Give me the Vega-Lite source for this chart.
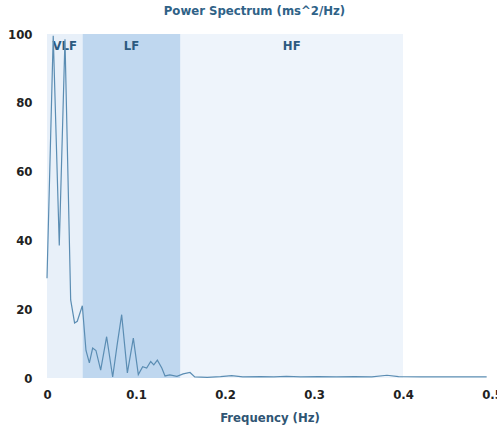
{
  "$schema": "https://vega.github.io/schema/vega-lite/v6.json",
  "width": 445,
  "height": 344,
  "autosize": {"type": "none"},
  "padding": {"left": 47, "top": 34, "right": 5, "bottom": 55},
  "background": "#ffffff",
  "config": {"view": {"stroke": null}, "font": "DejaVu Sans Condensed"},
  "title": {"text": "Power Spectrum (ms^2/Hz)", "fontSize": 13, "fontWeight": "bold", "color": "#2f6287", "offset": 10, "anchor": "middle", "dx": -15, "font": "DejaVu Sans Condensed"},
  "datasets": {
    "bands": [
      {"band": "VLF", "x0": 0, "x1": 0.04, "y0": 0, "y1": 100, "xm": 0.02, "ty": 96.5},
      {"band": "LF", "x0": 0.04, "x1": 0.15, "y0": 0, "y1": 100, "xm": 0.095, "ty": 96.5},
      {"band": "HF", "x0": 0.15, "x1": 0.4, "y0": 0, "y1": 100, "xm": 0.275, "ty": 96.5}
    ],
    "spectrum": [
      {"f": 0.0, "p": 29},
      {"f": 0.007, "p": 99.5},
      {"f": 0.0138, "p": 38.5},
      {"f": 0.0202, "p": 98.5},
      {"f": 0.0266, "p": 22.7},
      {"f": 0.031, "p": 16},
      {"f": 0.034, "p": 16.5},
      {"f": 0.0397, "p": 21},
      {"f": 0.0438, "p": 8},
      {"f": 0.0476, "p": 4.4},
      {"f": 0.0513, "p": 8.7},
      {"f": 0.055, "p": 8},
      {"f": 0.0603, "p": 2.3},
      {"f": 0.067, "p": 12},
      {"f": 0.0738, "p": 0.3},
      {"f": 0.079, "p": 10},
      {"f": 0.0839, "p": 18.4},
      {"f": 0.0903, "p": 1.5},
      {"f": 0.097, "p": 11.6},
      {"f": 0.1026, "p": 1},
      {"f": 0.1075, "p": 3.3},
      {"f": 0.112, "p": 2.9},
      {"f": 0.1165, "p": 4.8},
      {"f": 0.12, "p": 3.8},
      {"f": 0.124, "p": 5.2},
      {"f": 0.129, "p": 2.9},
      {"f": 0.1326, "p": 0.6},
      {"f": 0.138, "p": 0.9},
      {"f": 0.146, "p": 0.5},
      {"f": 0.153, "p": 1.2},
      {"f": 0.1607, "p": 1.6},
      {"f": 0.166, "p": 0.3},
      {"f": 0.18, "p": 0.2},
      {"f": 0.195, "p": 0.4},
      {"f": 0.2075, "p": 0.7},
      {"f": 0.22, "p": 0.3},
      {"f": 0.24, "p": 0.4},
      {"f": 0.255, "p": 0.3},
      {"f": 0.269, "p": 0.5},
      {"f": 0.285, "p": 0.3},
      {"f": 0.305, "p": 0.4},
      {"f": 0.325, "p": 0.3},
      {"f": 0.345, "p": 0.4},
      {"f": 0.365, "p": 0.3},
      {"f": 0.382, "p": 0.8},
      {"f": 0.395, "p": 0.4},
      {"f": 0.42, "p": 0.3},
      {"f": 0.45, "p": 0.3},
      {"f": 0.47, "p": 0.3},
      {"f": 0.494, "p": 0.3}
    ]
  },
  "layer": [
    {
      "data": {"name": "bands"},
      "mark": {"type": "rect"},
      "encoding": {
        "x": {"field": "x0", "type": "quantitative", "scale": {"domain": [0, 0.5]},
              "axis": {"values": [0, 0.1, 0.2, 0.3, 0.4, 0.5], "format": "~g", "domain": false, "ticks": false, "grid": false,
                       "labelFontSize": 13, "labelFontWeight": "bold", "labelColor": "#222222", "labelPadding": 10,
                       "labelFlush": false, "labelOverlap": false, "labelFont": "DejaVu Sans Condensed",
                       "title": "Frequency (Hz)", "titleFontSize": 13, "titleFontWeight": "bold", "titleColor": "#2f5573",
                       "titlePadding": 10, "titleFont": "DejaVu Sans Condensed"}},
        "x2": {"field": "x1"},
        "y": {"field": "y0", "type": "quantitative", "scale": {"domain": [0, 100]},
              "axis": {"values": [0, 20, 40, 60, 80, 100], "domain": false, "ticks": false, "grid": false,
                       "labelFontSize": 13, "labelFontWeight": "bold", "labelColor": "#222222", "labelPadding": 15,
                       "labelFont": "DejaVu Sans Condensed", "title": null}},
        "y2": {"field": "y1"},
        "color": {"field": "band", "type": "nominal", "legend": null,
                  "scale": {"domain": ["VLF", "LF", "HF"], "range": ["#e8f0f9", "#bfd7ef", "#eef4fb"]}}
      }
    },
    {
      "data": {"name": "bands"},
      "mark": {"type": "text", "fontSize": 13, "fontWeight": "bold", "color": "#2c5a80", "font": "DejaVu Sans Condensed"},
      "encoding": {
        "x": {"field": "xm", "type": "quantitative"},
        "y": {"field": "ty", "type": "quantitative"},
        "text": {"field": "band"}
      }
    },
    {
      "data": {"name": "spectrum"},
      "mark": {"type": "line", "color": "#5b8db3", "strokeWidth": 1.2},
      "encoding": {
        "x": {"field": "f", "type": "quantitative"},
        "y": {"field": "p", "type": "quantitative"}
      }
    }
  ]
}
